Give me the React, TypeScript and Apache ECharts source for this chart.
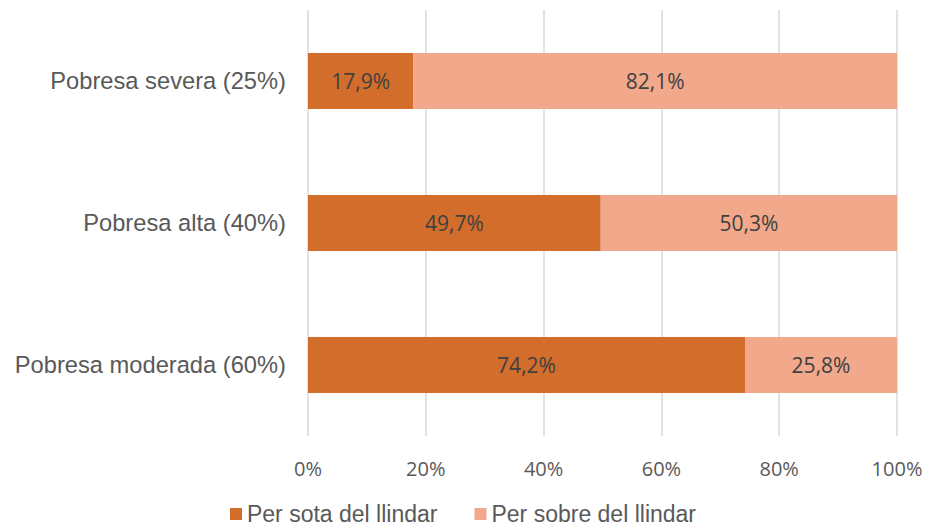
import React, { useEffect, useRef } from "react";
import * as echarts from "echarts";

const categories = ["Pobresa severa (25%)", "Pobresa alta (40%)", "Pobresa moderada (60%)"];
const belowName = "Per sota del llindar";
const aboveName = "Per sobre del llindar";
const belowValues = [17.9, 49.7, 74.2];
const aboveValues = [82.1, 50.3, 25.8];
const xTicks = { min: 0, max: 100, interval: 20 };

const fmt = (v: number) => v.toFixed(1).replace(".", ",") + "%";

export default function App() {
  const ref = useRef<HTMLDivElement>(null);
  useEffect(() => {
    if (!ref.current) return;
    const chart = echarts.init(ref.current, null, { renderer: "svg" });
    const labelStyle = {
      show: true,
      position: "inside" as const,
      formatter: (p: any) => fmt(p.value),
      fontFamily: "'Open Sans', sans-serif",
      fontSize: 21,
      color: "#404040",
    };
    chart.setOption({
      animation: false,
      backgroundColor: "#ffffff",
      grid: { left: 308, top: 10, width: 589, height: 426, containLabel: false },
      legend: {
        data: [belowName, aboveName],
        top: 501,
        left: "center",
        icon: "rect",
        itemWidth: 12,
        itemHeight: 12,
        itemGap: 37,
        padding: 0,
        textStyle: {
          fontFamily: "'Liberation Sans', Arial, sans-serif",
          fontSize: 23,
          lineHeight: 26,
          color: "#595959",
          padding: [0, 0, 0, 0],
        },
      },
      xAxis: {
        type: "value",
        min: xTicks.min,
        max: xTicks.max,
        interval: xTicks.interval,
        axisLine: { show: false },
        axisTick: { show: false },
        splitLine: { show: true, lineStyle: { color: "#D9D9D9", width: 1.5 } },
        axisLabel: {
          formatter: "{value}%",
          margin: 22,
          fontFamily: "'Open Sans', sans-serif",
          fontSize: 20,
          color: "#595959",
        },
      },
      yAxis: {
        type: "category",
        data: categories,
        inverse: true,
        axisLine: { show: false },
        axisTick: { show: false },
        axisLabel: {
          margin: 22,
          fontFamily: "'Liberation Sans', Arial, sans-serif",
          fontSize: 23.7,
          color: "#595959",
        },
      },
      series: [
        {
          name: belowName,
          type: "bar",
          stack: "total",
          barWidth: 56,
          data: belowValues,
          itemStyle: { color: "#D36D2B" },
          label: labelStyle,
        },
        {
          name: aboveName,
          type: "bar",
          stack: "total",
          barWidth: 56,
          data: aboveValues,
          itemStyle: { color: "#F1A88B" },
          label: labelStyle,
        },
      ],
    });
    return () => chart.dispose();
  }, []);
  return (
    <div
      ref={ref}
      style={{ position: "fixed", left: 0, top: 0, width: 926, height: 530, background: "#fff" }}
    />
  );
}
